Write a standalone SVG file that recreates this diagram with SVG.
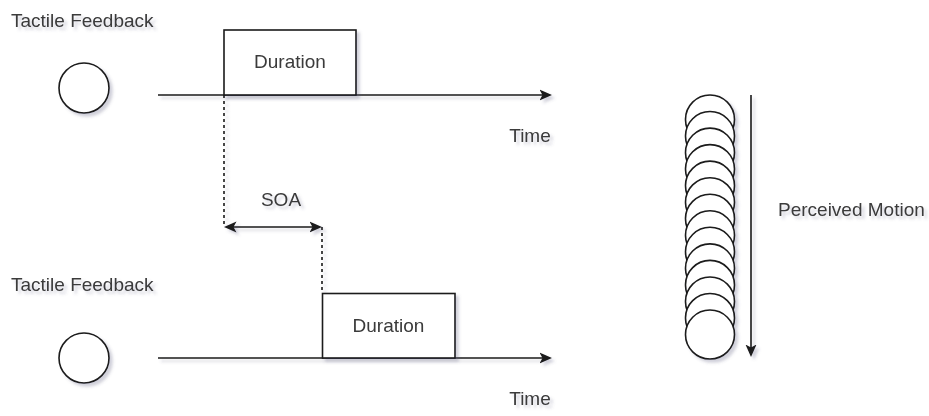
<svg xmlns="http://www.w3.org/2000/svg" width="929" height="416" viewBox="0 0 929 416">
  <style>
    .lbl { font-family: "Liberation Sans", Arial, sans-serif; font-size: 19px; fill: #3a3a3a; }
    .mid { text-anchor: middle; }
    .shape { fill: #ffffff; stroke: #1a1a1a; stroke-width: 1.6; }
    .line { fill: none; stroke: #1a1a1a; stroke-width: 1.6; }
    .dash { fill: none; stroke: #1a1a1a; stroke-width: 1.6; stroke-dasharray: 3 3; }
    .sh { filter: url(#shadow); }
  </style>
  <defs>
    <filter id="shadow" x="-20%" y="-20%" width="140%" height="140%">
      <feDropShadow dx="3" dy="3" stdDeviation="1.6" flood-color="#5a5a7a" flood-opacity="0.28"/>
    </filter>
    <marker id="head" markerUnits="userSpaceOnUse" markerWidth="13" markerHeight="12" viewBox="0 0 13 12" refX="9.5" refY="6" orient="auto-start-reverse">
      <path d="M0,0.5 L12.5,6 L0,11.5 L3,6 Z" fill="#1a1a1a"/>
    </marker>
  </defs>

  <rect width="929" height="416" fill="#ffffff"/>

  <!-- connectors: time axes, onset guides, SOA span, motion direction -->
  <g id="connectors" class="sh">
    <path class="line" d="M158,95 H549" marker-end="url(#head)"/>
    <path class="line" d="M158,358 H549" marker-end="url(#head)"/>
    <path class="dash" d="M224,95 V227"/>
    <path class="dash" d="M322,227 V293"/>
    <path class="line" d="M227,227 H319" marker-start="url(#head)" marker-end="url(#head)"/>
    <path class="line" d="M751,95 V354" marker-end="url(#head)"/>
  </g>

  <!-- first stimulus -->
  <g id="tactile-label-1" class="sh">
    <text class="lbl" x="11" y="27">Tactile Feedback</text>
  </g>
  <g id="stimulus-1" class="sh">
    <circle class="shape" cx="84" cy="88" r="25"/>
  </g>
  <g id="duration-1" class="sh">
    <rect class="shape" x="224" y="30" width="132" height="65"/>
    <text class="lbl mid" x="290" y="68">Duration</text>
  </g>
  <g id="time-label-1" class="sh">
    <text class="lbl mid" x="530" y="142">Time</text>
  </g>

  <!-- stimulus onset asynchrony -->
  <g id="soa-label" class="sh">
    <text class="lbl mid" x="281" y="206">SOA</text>
  </g>

  <!-- second stimulus -->
  <g id="tactile-label-2" class="sh">
    <text class="lbl" x="11" y="291">Tactile Feedback</text>
  </g>
  <g id="stimulus-2" class="sh">
    <circle class="shape" cx="84" cy="358" r="25"/>
  </g>
  <g id="duration-2" class="sh">
    <rect class="shape" x="322.5" y="293.5" width="132.5" height="64.5"/>
    <text class="lbl mid" x="388.5" y="332">Duration</text>
  </g>
  <g id="time-label-2" class="sh">
    <text class="lbl mid" x="530" y="405">Time</text>
  </g>

  <!-- apparent motion: overlapping circles, drawn top to bottom -->
  <g id="motion-stack" class="sh">
    <circle class="shape" cx="710" cy="119.5" r="24.5"/>
    <circle class="shape" cx="710" cy="136.04" r="24.5"/>
    <circle class="shape" cx="710" cy="152.58" r="24.5"/>
    <circle class="shape" cx="710" cy="169.12" r="24.5"/>
    <circle class="shape" cx="710" cy="185.66" r="24.5"/>
    <circle class="shape" cx="710" cy="202.2" r="24.5"/>
    <circle class="shape" cx="710" cy="218.74" r="24.5"/>
    <circle class="shape" cx="710" cy="235.28" r="24.5"/>
    <circle class="shape" cx="710" cy="251.82" r="24.5"/>
    <circle class="shape" cx="710" cy="268.36" r="24.5"/>
    <circle class="shape" cx="710" cy="284.9" r="24.5"/>
    <circle class="shape" cx="710" cy="301.44" r="24.5"/>
    <circle class="shape" cx="710" cy="317.98" r="24.5"/>
    <circle class="shape" cx="710" cy="334.52" r="24.5"/>
  </g>
  <g id="motion-label" class="sh">
    <text class="lbl" x="778" y="216">Perceived Motion</text>
  </g>
</svg>
